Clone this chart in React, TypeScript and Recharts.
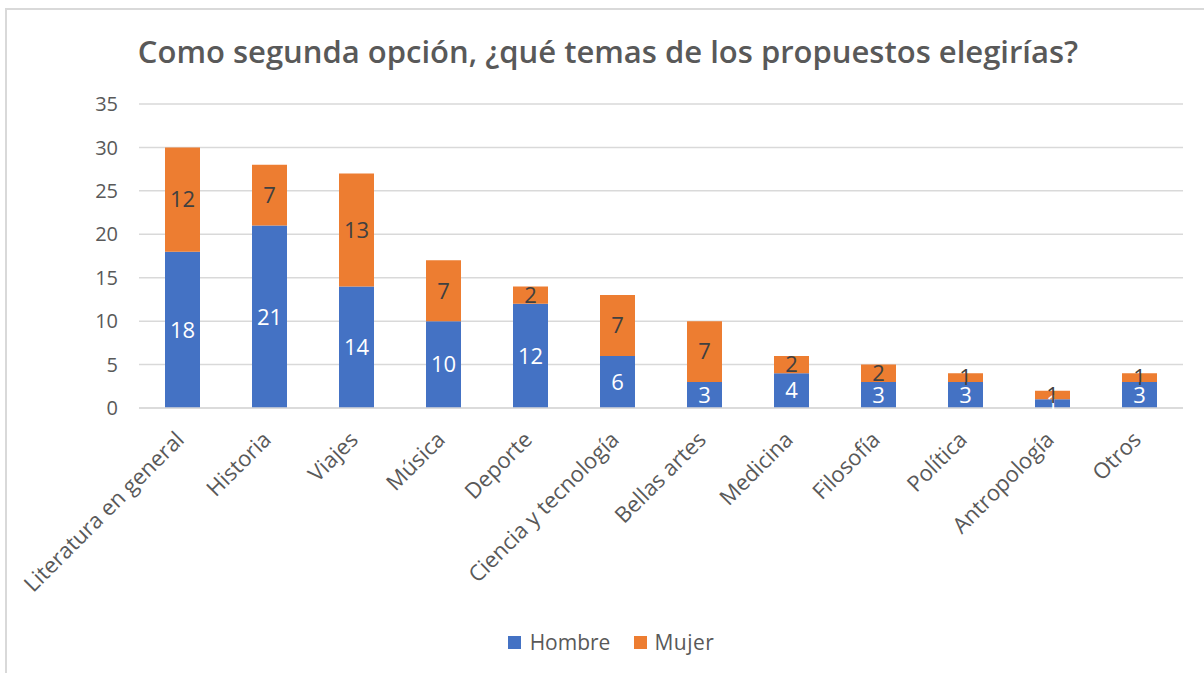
import React from "react";
import { BarChart, Bar, XAxis, YAxis, CartesianGrid, LabelList } from "recharts";

const categories = [
  "Literatura en general",
  "Historia",
  "Viajes",
  "Música",
  "Deporte",
  "Ciencia y tecnología",
  "Bellas artes",
  "Medicina",
  "Filosofía",
  "Política",
  "Antropología",
  "Otros",
];
const hombre = [18, 21, 14, 10, 12, 6, 3, 4, 3, 3, 1, 3];
const mujer = [12, 7, 13, 7, 2, 7, 7, 2, 2, 1, 1, 1];
const yTicks = [0, 5, 10, 15, 20, 25, 30, 35];

const data = categories.map((c, i) => ({ name: c, Hombre: hombre[i], Mujer: mujer[i] }));

const FONT = "'Open Sans', Lato, sans-serif";
const TEXT = "#595959";
const BLUE = "#4472C4";
const ORANGE = "#ED7D31";
const GRID = "#d9d9d9";

const XTick = (props: any) => {
  const { x, y, payload } = props;
  return (
    <g transform={`translate(${x + 3},${y + 33})`}>
      <text
        textAnchor="end"
        transform="rotate(-45)"
        fill={TEXT}
        fontSize={22}
        fontFamily={FONT}
      >
        {payload.value}
      </text>
    </g>
  );
};

export default function App() {
  return (
    <div style={{ position: "absolute", left: 0, top: 0, width: 1204, height: 673, overflow: "hidden", background: "#fff" }}>
      <div
        style={{
          position: "absolute",
          left: 5,
          top: 8,
          width: 1400,
          height: 900,
          borderTop: `2px solid ${GRID}`,
          borderLeft: `2px solid ${GRID}`,
          boxSizing: "border-box",
        }}
      />
      <div
        style={{
          position: "absolute",
          left: 0,
          top: 31,
          width: 1216,
          textAlign: "center",
          fontFamily: FONT,
          fontWeight: 600,
          fontSize: 31,
          lineHeight: "40px",
          color: TEXT,
          whiteSpace: "nowrap",
        }}
      >
        Como segunda opción, ¿qué temas de los propuestos elegirías?
      </div>
      <div style={{ position: "absolute", left: 0, top: 0 }}>
        <BarChart
          width={1204}
          height={673}
          data={data}
          margin={{ top: 104, right: 21, bottom: 235, left: 79 }}
          barSize={35}
        >
          <CartesianGrid vertical={false} stroke={GRID} strokeWidth={1.5} />
          <XAxis
            dataKey="name"
            height={30}
            axisLine={{ stroke: GRID, strokeWidth: 1.5 }}
            tickLine={false}
            tickSize={0}
            tickMargin={0}
            interval={0}
            tick={<XTick />}
          />
          <YAxis
            width={60}
            domain={[0, 35]}
            ticks={yTicks}
            axisLine={false}
            tickLine={false}
            tickSize={0}
            tickMargin={21}
            tick={{ fill: TEXT, fontSize: 20, fontFamily: FONT }}
          />
          <Bar dataKey="Hombre" stackId="a" fill={BLUE} isAnimationActive={false}>
            <LabelList dataKey="Hombre" position="center" fill="#ffffff" fontSize={22} fontFamily={FONT} />
          </Bar>
          <Bar dataKey="Mujer" stackId="a" fill={ORANGE} isAnimationActive={false}>
            <LabelList dataKey="Mujer" position="center" fill="#404040" fontSize={22} fontFamily={FONT} />
          </Bar>
        </BarChart>
      </div>
      <div
        style={{
          position: "absolute",
          left: 0,
          top: 627,
          width: 1222,
          display: "flex",
          justifyContent: "center",
          alignItems: "center",
          fontFamily: FONT,
          fontSize: 21,
          color: TEXT,
          lineHeight: "30px",
        }}
      >
        <span style={{ display: "inline-block", width: 13, height: 13, background: BLUE, marginRight: 9 }} />
        <span style={{ marginRight: 24 }}>Hombre</span>
        <span style={{ display: "inline-block", width: 13, height: 13, background: ORANGE, marginRight: 7 }} />
        <span style={{ letterSpacing: 0.5 }}>Mujer</span>
      </div>
    </div>
  );
}
